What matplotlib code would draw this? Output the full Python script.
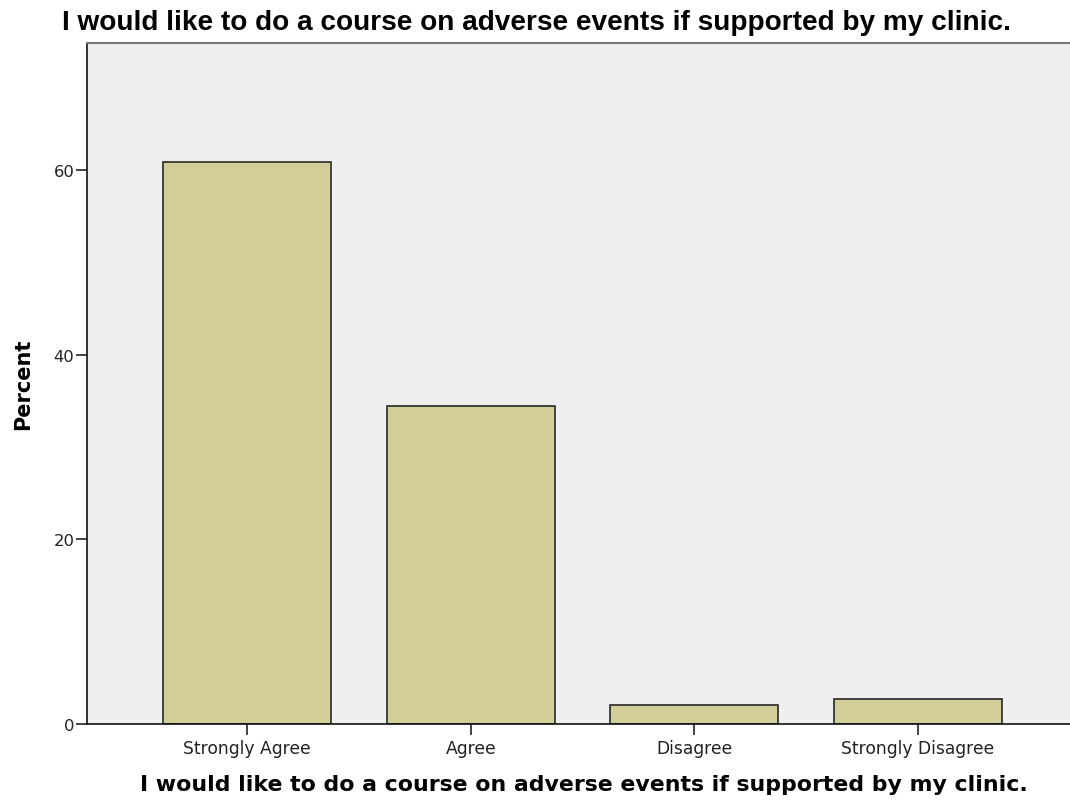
import matplotlib
matplotlib.use("Agg")
import matplotlib.pyplot as plt

categories = ["Strongly Agree", "Agree", "Disagree", "Strongly Disagree"]
percent = [60.9, 34.5, 2.1, 2.7]
yticks = [0, 20, 40, 60]
title = "I would like to do a course on adverse events if supported by my clinic."

fig = plt.figure(figsize=(10.7, 8.03), dpi=100)
ax = fig.add_axes([87 / 1070, 78 / 803, 983 / 1070, 681 / 803])
ax.set_facecolor("#efefef")

x = list(range(len(categories)))
ax.bar(x, percent, width=0.75, color="#d3ce97", edgecolor="#2a2a2a", linewidth=1.2, zorder=2)

ax.set_xlim(-0.716, 3.68)
ax.set_ylim(0, 73.8)
ax.set_xticks(x)
ax.set_xticklabels(categories, fontsize=12.3, family="DejaVu Sans", color="#222222")
ax.set_yticks(yticks)
ax.set_yticklabels([str(v) for v in yticks], fontsize=11.8, family="DejaVu Sans", color="#222222")
ax.tick_params(direction="out", length=8, width=1.2, color="#222222", pad=1)
ax.tick_params(axis="x", pad=3)

for s in ["left", "bottom"]:
    ax.spines[s].set_linewidth(1.2)
    ax.spines[s].set_color("#111111")
ax.spines["top"].set_color("#777777")
ax.spines["top"].set_linewidth(1.5)
ax.spines["right"].set_visible(False)

ax.set_ylabel("Percent", fontsize=15, fontweight="bold", family="DejaVu Sans", labelpad=15)
ax.set_xlabel(title, fontsize=15.8, fontweight="bold", family="DejaVu Sans")
ax.xaxis.set_label_coords(0.505, -0.073)
fig.text(0.501, 0.971, title, ha="center", va="center", fontsize=20.2, fontweight="bold",
         family="Liberation Sans")

fig.savefig("out.png", dpi=100)
